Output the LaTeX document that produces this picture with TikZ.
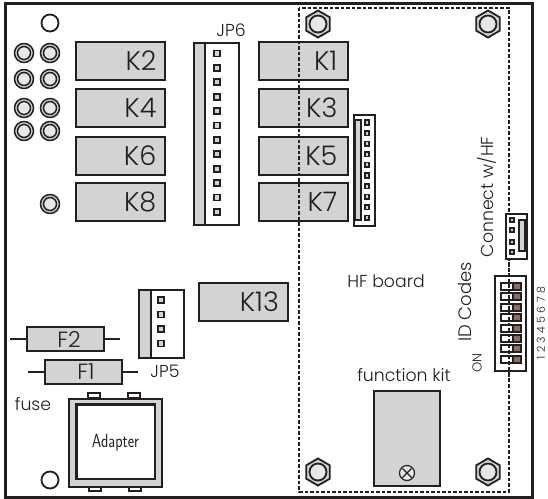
\documentclass[tikz,border=0pt]{standalone}
\usepackage{fontspec}
\setmainfont{Poppins}[UprightFont=* Light]
\usetikzlibrary{shapes.geometric}
\definecolor{boardgray}{HTML}{D1D3D4}
\definecolor{holegray}{HTML}{E6E7E8}
\definecolor{inkdark}{HTML}{231F20}
\definecolor{dipbrown}{HTML}{8A6F62}
\tikzset{
	relaybox/.style={draw=inkdark,line width=2pt,fill=boardgray,minimum width=89pt,minimum height=38pt,inner sep=0pt,outer sep=0pt,anchor=north west},
	relaytext/.style={font=\fontsize{27}{27}\selectfont,text=inkdark,anchor=east,inner sep=0pt},
	plainbox/.style={draw=inkdark,line width=2pt},
	pinbox/.style={draw=inkdark,line width=1.8pt,fill=boardgray,minimum size=6pt,inner sep=0pt,outer sep=0pt},
	smallpin/.style={draw=inkdark,line width=1.6pt,fill=boardgray,minimum size=4.5pt,inner sep=0pt,outer sep=0pt},
	hole/.style={draw=inkdark,line width=1.5pt,fill=boardgray,circle,minimum size=19pt,inner sep=0pt,outer sep=0pt},
	hexnut/.style={draw=inkdark,line width=1.8pt,fill=boardgray,regular polygon,regular polygon sides=6,shape border rotate=30,minimum size=27pt,inner sep=0pt,outer sep=0pt},
	labeltext/.style={font=\fontsize{17.3}{17.3}\selectfont,text=inkdark,inner sep=0pt}
}
\begin{document}
\begin{tikzpicture}[x=1pt,y=-1pt]
	\useasboundingbox (0,0) rectangle (548,498);
	\fill[white] (0,0) rectangle (548,498);
	\draw[inkdark,line width=3pt] (5,3.5) rectangle (532,497);
	% holes
	\foreach \x/\nx in {24/a,50/b}
	\foreach \y in {53,79,108,131}
	{
		\node[hole] (hole\nx\y) at (\x,\y) {};
		\draw[inkdark,line width=1.5pt,fill=holegray] (hole\nx\y.center) circle (6.5);
	}
	\node[hole] (holek) at (50,204) {};
	\draw[inkdark,line width=1.5pt,fill=holegray] (holek.center) circle (6.5);
	\node[circle,draw=inkdark,line width=1.8pt,minimum size=17pt,inner sep=0pt] (opentop) at (50,23) {};
	\node[circle,draw=inkdark,line width=1.8pt,minimum size=17pt,inner sep=0pt] (openbot) at (50,480) {};
	% relays
	\foreach \n/\y in {2/42,4/89,6/137,8/183}
	{
		\node[relaybox] (k\n) at (75.5,\y) {};
		\node[relaytext] (t\n) at (156.5,\y+19) {K\n};
	}
	\foreach \n/\y in {1/42,3/89,5/137,7/183}
	{
		\node[relaybox] (k\n) at (258.5,\y) {};
		\node[relaytext] (t\n) at (337.5,\y+19) {K\n};
	}
	\node[relaybox] (k13) at (198.5,283) {};
	\node[relaytext] (t13) at (279,302) {K13};
	% JP6
	\draw[plainbox,fill=white] (193.5,42.5) rectangle (238.5,224.5);
	\draw[plainbox,fill=boardgray] (193.5,42.5) rectangle (204.5,224.5);
	\foreach \y in {0,...,11}
	\node[pinbox] (jpa\y) at (217,53.5+\y*14.4) {};
	\node[labeltext] (jp6) at (231,30) {JP6};
	% connector by K5
	\draw[plainbox,fill=white] (353.5,114.5) rectangle (374.5,225.5);
	\draw[plainbox,fill=boardgray] (355,120) rectangle (361,219.5);
	\foreach \y in {0,...,9}
	\node[smallpin] (jpb\y) at (367,122.5+\y*10.6) {};
	% JP5
	\draw[plainbox,fill=white] (138.5,289.5) rectangle (184,358);
	\draw[plainbox,fill=boardgray] (138.5,289.5) rectangle (150.5,358);
	\foreach \y in {0,...,3}
	\node[pinbox] (jpc\y) at (161,300+\y*14.5) {};
	\node[labeltext] (jp5) at (165,371) {JP5};
	% fuses
	\draw[inkdark,line width=1.6pt] (10,339) -- (120,339);
	\node[relaybox,minimum width=77pt,minimum height=24pt] (f2) at (26.5,327) {};
	\node[relaytext,font=\fontsize{22}{22}\selectfont,anchor=center] (tf2) at (69,339) {F2};
	\draw[inkdark,line width=1.6pt] (28,372) -- (138,372);
	\node[relaybox,minimum width=77pt,minimum height=24pt] (f1) at (44.5,360) {};
	\node[relaytext,font=\fontsize{22}{22}\selectfont,anchor=center] (tf1) at (86,372) {F1};
	\node[labeltext] (fuse) at (33,404) {fuse};
	% adapter
	\foreach \x in {88,128}
	\draw[plainbox,fill=white,line width=1.6pt] (\x,393) rectangle (\x+12,398);
	\foreach \x in {89,129}
	\draw[plainbox,fill=white,line width=1.6pt] (\x,487) rectangle (\x+12,491);
	\draw[plainbox,fill=boardgray] (68.5,398.5) rectangle (162,487);
	\draw[inkdark,line width=2.4pt,fill=white] (76.5,404.5) rectangle (155,479);
	\node[labeltext,font=\sffamily\fontsize{19}{19}\selectfont,xscale=.8] (adapter) at (115.5,443) {Adapter};
	% HF board
	\foreach \x/\y/\n in {318/24/a,488/24/b,318/472/c,488/472/d}
	{
		\node[hexnut] (nut\n) at (\x,\y) {};
		\draw[inkdark,line width=1.8pt,fill=holegray] (nut\n.center) circle (8.5);
	}
	\draw[inkdark,line width=2pt,dash pattern=on 3.5pt off 2pt] (299,7.5) rectangle (508.5,491.5);
	\node[labeltext] (hfboard) at (386,281) {HF board};
	\node[labeltext] (kittext) at (404,375) {function kit};
	\draw[plainbox,fill=boardgray] (373.5,390.5) rectangle (440,486);
	\node[circle,draw=inkdark,line width=1.2pt,fill=holegray,minimum size=15pt,inner sep=0pt] (screw) at (407,473) {};
	\draw[inkdark,line width=1.2pt] (402.5,468.5) -- (411.5,477.5) (402.5,477.5) -- (411.5,468.5);
	% connect w/HF
	\draw[plainbox,fill=white] (505.5,213.5) rectangle (527,259);
	\draw[plainbox,fill=boardgray] (518.5,220) rectangle (525,251);
	\foreach \y in {220,230,242,252}
	\node[smallpin] (jpd\y) at (512,\y) {};
	\node[labeltext,rotate=90] (connect) at (487,197) {Connect w/HF};
	% ID codes
	\draw[plainbox,fill=white] (494.5,275.5) rectangle (526,371);
	\foreach \y in {0,...,7}
	{
		\fill[inkdark] (500,282+\y*10.4) rectangle (522,291+\y*10.4);
		\fill[white] (502,284+\y*10.4) rectangle (512,289+\y*10.4);
		\fill[dipbrown] (514,284+\y*10.4) rectangle (520,289+\y*10.4);
	}
	\draw[inkdark,line width=2pt,dash pattern=on 3.5pt off 2pt] (508.5,262) -- (508.5,380);
	\node[labeltext,rotate=90,font=\fontsize{18}{18}\selectfont] (idcodes) at (465,302) {ID Codes};
	\node[labeltext,rotate=90,font=\fontsize{13}{13}\selectfont] (ontext) at (477,363) {ON};
	\node[labeltext,rotate=90,font=\fontsize{11}{11}\selectfont\addfontfeature{LetterSpace=30}] (numbers) at (541,323) {12345678};
\end{tikzpicture}
\end{document}
